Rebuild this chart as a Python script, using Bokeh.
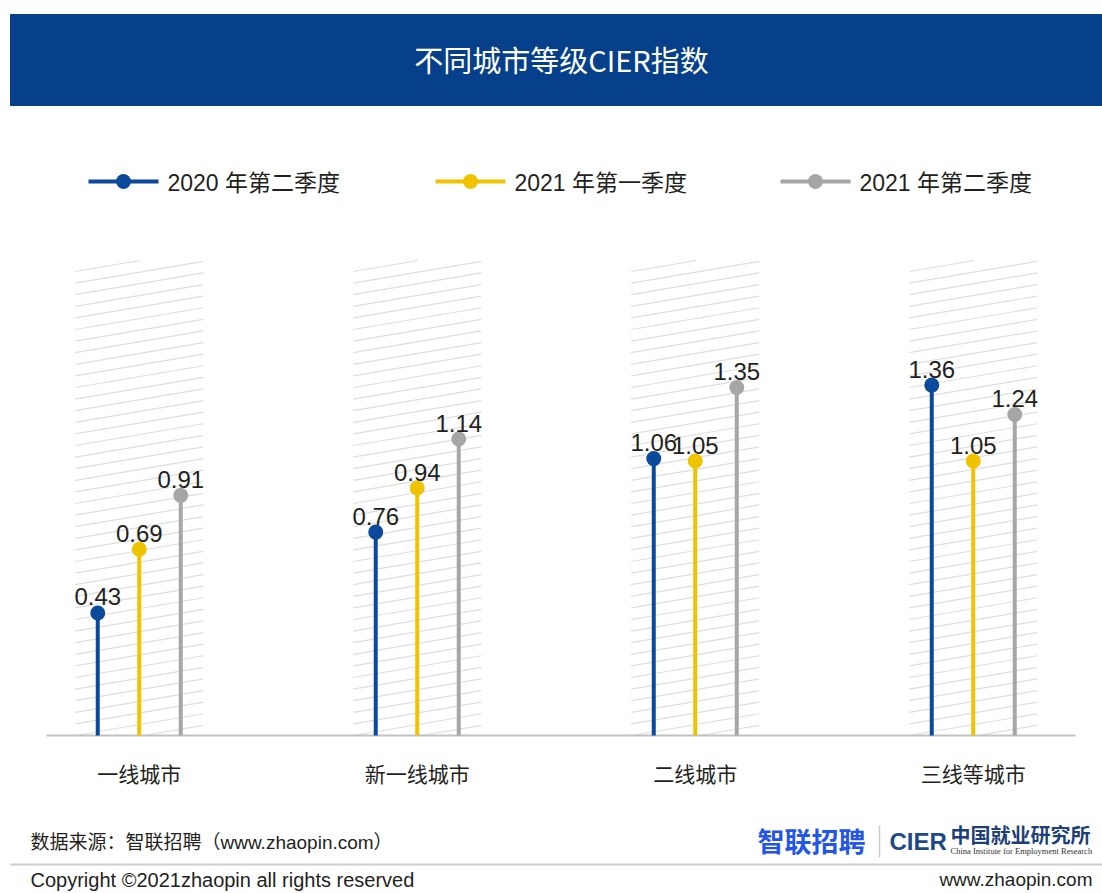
from bokeh.plotting import figure
from bokeh.models import Range1d
from bokeh.core.properties import value
from bokeh.embed import file_html
from bokeh.resources import INLINE

# ---------------- data ----------------
title = "不同城市等级CIER指数"
categories = ["一线城市", "新一线城市", "二线城市", "三线等城市"]
series_names = ["2020 年第二季度", "2021 年第一季度", "2021 年第二季度"]
q2_2020 = [0.43, 0.76, 1.06, 1.36]
q1_2021 = [0.69, 0.94, 1.05, 1.05]
q2_2021 = [0.91, 1.14, 1.35, 1.24]
series_values = [q2_2020, q1_2021, q2_2021]
colors = ["#0b4a9b", "#efc300", "#a6a6a6"]
source_note = "数据来源：智联招聘（www.zhaopin.com）"
copyright_note = "Copyright ©2021zhaopin all rights reserved"
site_note = "www.zhaopin.com"
logo_zl = "智联招聘"
logo_cier = "CIER"
logo_cn = "中国就业研究所"
logo_en = "China Institute for Employment Research"

# ---------------- layout ----------------
W, H = 1102, 893
PX_X = 278.0          # pixels per category
PX_Y = 245.0          # pixels per index unit
X0 = -138.75 / PX_X
Y_TOP = 717.8 / PX_Y
DODGE = 41.5 / PX_X
BASE_PAGE_Y = 735

FONT = value("Liberation Sans, Noto Sans CJK SC")
CJK = value("Noto Sans CJK SC")
TXT = "#231f20"

p = figure(width=W, height=H, x_range=Range1d(X0, X0 + W / PX_X),
           y_range=Range1d(Y_TOP - H / PX_Y, Y_TOP),
           output_backend="svg", toolbar_location=None, min_border=0,
           x_axis_type=None, y_axis_type=None)
p.grid.visible = False
p.outline_line_color = None
p.background_fill_color = "white"
p.border_fill_color = "white"
# page-pixel coordinate system for decorations
p.extra_x_ranges = {"px": Range1d(0, W)}
p.extra_y_ranges = {"py": Range1d(H, 0)}
PX = dict(x_range_name="px", y_range_name="py")


def page_x(ix):
    return (ix - X0) * PX_X


base_val = Y_TOP - BASE_PAGE_Y / PX_Y
n = len(categories)
idx = list(range(n))

# ---------------- banner ----------------
p.quad(left=[10], right=[1102], top=[14], bottom=[105], color="#063f8a", **PX)
p.text(x=[561], y=[58], text=[title], text_color="white", text_font=CJK,
       text_font_size="29px", text_align="center", text_baseline="middle", **PX)

# ---------------- legend ----------------
leg_x = [88, 435, 780]
for lx, name, c in zip(leg_x, series_names, colors):
    p.segment(x0=[lx], y0=[181], x1=[lx + 70], y1=[181], line_color=c, line_width=4, **PX)
    p.scatter(x=[lx + 35], y=[181], size=15, fill_color=c, line_color=None, **PX)
    p.text(x=[lx + 79], y=[182], text=[name], text_color=TXT, text_font=FONT,
           text_font_size="23px", text_align="left", text_baseline="middle", **PX)

# ---------------- hatched bands ----------------
top, bottom, half_w, slope, step = 260.0, float(BASE_PAGE_Y), 64.0, 0.17, 11.6
xs_h, ys_h = [], []
for i in idx:
    cx = page_x(i)
    left, right = cx - half_w, cx + half_w
    y0 = 271.0 - step
    while y0 < bottom + slope * (right - left) + step:
        xa = max(left, left + (y0 - bottom) / slope)
        xb = min(right, left + (y0 - top) / slope)
        if xb > xa:
            xs_h.append([xa, xb])
            ys_h.append([y0 - slope * (xa - left), y0 - slope * (xb - left)])
        y0 += step
p.multi_line(xs=xs_h, ys=ys_h, line_color="#dedede", line_width=1.2, **PX)

# baseline
p.segment(x0=[46], y0=[BASE_PAGE_Y], x1=[1075], y1=[BASE_PAGE_Y],
          line_color="#c2c2c2", line_width=2, **PX)

# ---------------- lollipops ----------------
for k, (vals, c) in enumerate(zip(series_values, colors)):
    xs = [i + (k - 1) * DODGE for i in idx]
    p.segment(x0=xs, y0=[base_val] * n, x1=xs, y1=vals, line_color=c, line_width=4)
    p.scatter(x=xs, y=vals, size=15, fill_color=c, line_color=None)
    p.text(x=xs, y=vals, text=["%.2f" % v for v in vals], text_color=TXT,
           text_font=FONT, text_font_size="24px", text_align="center",
           text_baseline="alphabetic", y_offset=-16)

# category labels
p.text(x=idx, y=[base_val] * n, text=categories, text_color=TXT, text_font=CJK,
       text_font_size="21px", text_align="center", text_baseline="middle", y_offset=37)

# ---------------- footer ----------------
p.text(x=[30], y=[842], text=[source_note], text_color=TXT, text_font=FONT,
       text_font_size="19px", text_align="left", text_baseline="middle", **PX)
p.text(x=[757], y=[840], text=[logo_zl], text_color="#2356e6", text_font=CJK,
       text_font_style="bold", text_font_size="27px", text_align="left",
       text_baseline="middle", **PX)
p.segment(x0=[879], y0=[825], x1=[879], y1=[857], line_color="#cccccc", line_width=1.5, **PX)
p.text(x=[889], y=[841], text=[logo_cier], text_color="#1e4a8a",
       text_font=value("Liberation Sans"), text_font_style="bold",
       text_font_size="24px", text_align="left", text_baseline="middle", **PX)
p.text(x=[950], y=[834], text=[logo_cn], text_color="#1e3f78", text_font=CJK,
       text_font_style="bold", text_font_size="20px", text_align="left",
       text_baseline="middle", **PX)
p.text(x=[950], y=[850], text=[logo_en], text_color="#333333",
       text_font=value("Liberation Serif"), text_font_size="8.5px",
       text_align="left", text_baseline="middle", **PX)
p.segment(x0=[10], y0=[864], x1=[1102], y1=[864], line_color="#cccccc", line_width=2, **PX)
p.text(x=[30], y=[879], text=[copyright_note], text_color=TXT, text_font=FONT,
       text_font_size="20px", text_align="left", text_baseline="middle", **PX)
p.text(x=[1092], y=[879], text=[site_note], text_color=TXT, text_font=FONT,
       text_font_size="19px", text_align="right", text_baseline="middle", **PX)

open("out.html", "w").write(file_html(p, INLINE))
